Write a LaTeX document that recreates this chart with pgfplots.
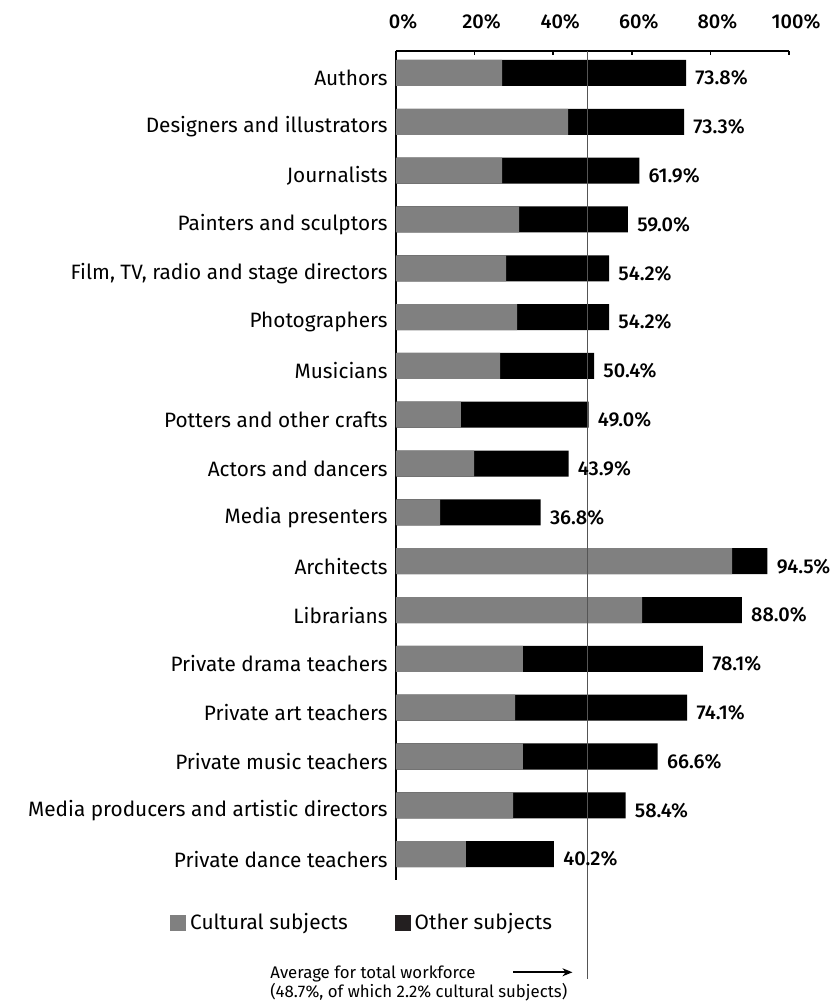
\documentclass[border=0pt]{standalone}
\usepackage{fontspec}
\setmainfont{Fira Sans}
\newfontfamily\medfont{Fira Sans Medium}
\usepackage{pgfplots}
\usepackage{pgfplotstable}
\pgfplotsset{compat=1.18}
\usetikzlibrary{calc,arrows.meta}

\definecolor{cultural}{HTML}{808080}
\definecolor{other}{HTML}{000000}
\definecolor{otherkey}{HTML}{231F20}
\definecolor{avgline}{HTML}{555555}

% share of workers with a degree: cultural subjects and total (cultural + other)
\pgfplotstableread{
idx cultural total
0  27.0 73.8
1  43.8 73.3
2  27.0 61.9
3  31.3 59.0
4  28.0 54.2
5  30.8 54.2
6  26.5 50.4
7  16.5 49.0
8  19.9 43.9
9  11.2 36.8
10 85.5 94.5
11 62.6 88.0
12 32.3 78.1
13 30.3 74.1
14 32.3 66.6
15 29.8 58.4
16 17.8 40.2
}\degreedata

\begin{document}
\begin{tikzpicture}[font=\fontsize{10.4}{12.2}\selectfont]
\begin{axis}[
  scale only axis,
  width=196.5pt, height=414.5pt,
  xmin=0, xmax=100,
  ymin=-0.45, ymax=16.53,
  y dir=reverse,
  axis x line=top, axis y line=left,
  axis line style={line width=1pt, -},
  xtick={0,20,40,60,80,100},
  xticklabels={0\%,20\%,40\%,60\%,80\%,100\%},
  ytick={0,...,16},
  yticklabels={
    Authors,
    Designers and illustrators,
    Journalists,
    Painters and sculptors,
    {Film, TV, radio and stage directors},
    Photographers,
    Musicians,
    Potters and other crafts,
    Actors and dancers,
    Media presenters,
    Architects,
    Librarians,
    Private drama teachers,
    Private art teachers,
    Private music teachers,
    Media producers and artistic directors,
    Private dance teachers},
  tick align=inside,
  major tick length=2pt,
  xtick style={line width=0.75pt, black},
  ytick style={draw=none},
  xticklabel style={inner sep=0pt, anchor=south, yshift=10.5pt, xshift=3.5pt,
    font=\medfont},
  yticklabel style={inner sep=0pt, anchor=east, xshift=-4pt, yshift=-2.5pt},
  clip=false,
  /pgf/number format/assume math mode=true,
  legend columns=2,
  legend style={at={(axis cs:-57.5,17.40)}, anchor=west, draw=none,
    fill=none, inner sep=0pt,
    /tikz/every even column/.append style={column sep=21.5pt}},
]
\coordinate (TL) at (axis cs:0,-0.45);

\addlegendimage{legend image code/.code={\fill[cultural] (0pt,-3.75pt) rectangle (7.5pt,3.75pt);}}
\addlegendentry{Cultural subjects}
\addlegendimage{legend image code/.code={\fill[otherkey] (0pt,-3.75pt) rectangle (7.5pt,3.75pt);}}
\addlegendentry{Other subjects}

% full bar = total share, labelled with its value
\addplot[xbar, bar width=0.533, bar shift=0pt, fill=other, draw=none,
  forget plot, point meta=x,
  nodes near coords={\pgfmathprintnumber[fixed,fixed zerofill,precision=1]{\pgfplotspointmeta}\%},
  every node near coord/.append style={anchor=west, inner sep=0pt,
    xshift=4.5pt, yshift=-2.5pt, black, font=\medfont}]
  table[x=total, y=idx] {\degreedata};

% cultural-subject part drawn over it
\addplot[xbar, bar width=0.533, bar shift=0pt, fill=cultural, draw=none, forget plot]
  table[x=cultural, y=idx] {\degreedata};

% average for the total workforce
\addplot[avgline, line width=0.7pt, forget plot] coordinates {(48.7,-0.45) (48.7,18.55)};

\node[anchor=north west, align=left, inner sep=0pt,
  font=\fontsize{8.4}{9.3}\selectfont] at (axis cs:-32.06,18.28)
  {Average for total workforce\\(48.7\%, of which 2.2\% cultural subjects)};
\draw[-{Stealth[length=5pt,width=4pt]}, line width=0.8pt]
  (axis cs:29.8,18.42) -- (axis cs:44.9,18.42);
\end{axis}
\pgfresetboundingbox
\path ($(TL)+(-198pt,25.5pt)$) rectangle ($(TL)+(222pt,-475.5pt)$);
\end{tikzpicture}
\end{document}
